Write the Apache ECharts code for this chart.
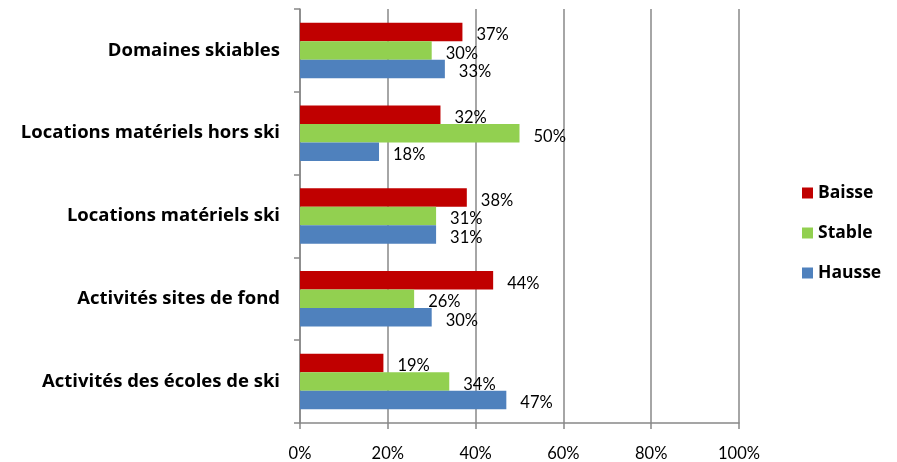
<!DOCTYPE html>
<html><head><meta charset="utf-8">
<script src="https://cdn.jsdelivr.net/npm/echarts@6/dist/echarts.min.js"></script>
<style>html,body{margin:0;padding:0;background:#fff}#c{width:897px;height:462px}</style>
</head><body><div id="c"></div>
<script>
const categories = ['Activités des écoles de ski','Activités sites de fond','Locations matériels ski','Locations matériels hors ski','Domaines skiables'];
const hausse = [47,30,31,18,33];
const stable = [34,26,31,50,30];
const baisse = [19,44,38,32,37];
const xTicks = [0,20,40,60,80,100];

const chart = echarts.init(document.getElementById('c'));
const labelCfg = {show:true, position:'right', distance:14, offset:[0,3], color:'#000', fontFamily:'Lato', fontSize:16.5, formatter: p => p.value + '%'};
const mk = (name, data, color) => ({name, type:'bar', data, barWidth:18.5, barGap:'0%', itemStyle:{color}, label:labelCfg, silent:true});
chart.setOption({
  animation:false,
  grid:{left:300, right:158, top:9, bottom:39, containLabel:false},
  legend:{orient:'vertical', left:797, top:179, itemWidth:11, itemHeight:11, itemGap:22, icon:'rect',
    data:['Baisse','Stable','Hausse'], textStyle:{fontFamily:'Open Sans', fontWeight:'bold', fontSize:17.5, color:'#000'}},
  xAxis:{type:'value', min:0, max:100, interval:20,
    axisLabel:{formatter: v => v + '%', fontFamily:'Lato', fontSize:16.5, color:'#000', margin:22},
    axisLine:{show:true, lineStyle:{color:'#888', width:1.5}},
    axisTick:{show:true, length:6, lineStyle:{color:'#888', width:1.5}},
    splitLine:{show:true, lineStyle:{color:'#888', width:1.5}}},
  yAxis:{type:'category', data:categories,
    axisLine:{show:true, lineStyle:{color:'#888', width:1.5}},
    axisTick:{show:true, length:6, lineStyle:{color:'#888', width:1.5}},
    axisLabel:{fontFamily:'Open Sans', fontWeight:'bold', fontSize:18.5, color:'#000', margin:20}},
  series:[mk('Baisse', baisse, '#c00000'), mk('Stable', stable, '#92d050'), mk('Hausse', hausse, '#4f81bd')]
});
</script></body></html>
